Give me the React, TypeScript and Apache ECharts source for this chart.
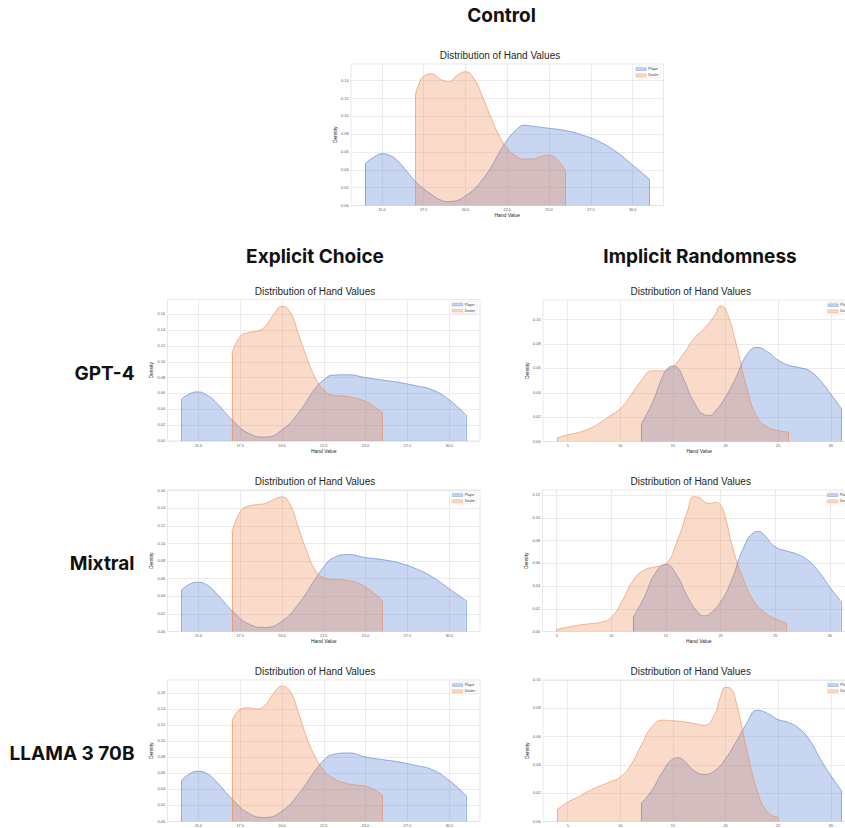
import React, { useEffect, useRef } from "react";
import * as echarts from "echarts";

// ---------- tick labels ----------
const explicitXTicks = [15, 17.5, 20, 22.5, 25, 27.5, 30];
const implicitXTicks = [5, 10, 15, 20, 25, 30];
const yTicks16 = [0, 0.02, 0.04, 0.06, 0.08, 0.1, 0.12, 0.14, 0.16];
const yTicks14 = [0, 0.02, 0.04, 0.06, 0.08, 0.1, 0.12, 0.14];
const yTicks12 = [0, 0.02, 0.04, 0.06, 0.08, 0.1, 0.12];
const yTicks10 = [0, 0.02, 0.04, 0.06, 0.08, 0.1];

const seriesNames = ["Player", "Dealer"];

// ---------- data: [hand value, density] ----------
const controlPlayer = [[14,0.047],[14.5,0.054],[15,0.058],[15.5,0.056],[16,0.049],[16.5,0.038],[17,0.027],[17.5,0.0187],[18,0.012],[18.5,0.0063],[19,0.0045],[19.5,0.0056],[20,0.0108],[20.5,0.018],[21,0.0287],[21.5,0.042],[22,0.0586],[22.5,0.0735],[23,0.084],[23.5,0.09],[24,0.089],[25,0.0866],[26,0.084],[27,0.079],[28,0.0717],[29,0.0605],[30,0.0455],[31,0.0295]];
const controlDealer = [[17,0.124],[17.25,0.138],[17.5,0.145],[18,0.1475],[18.5,0.1415],[19,0.139],[19.5,0.146],[20,0.15],[20.5,0.1426],[21,0.123],[21.5,0.0997],[22,0.079],[22.5,0.064],[23,0.0556],[23.5,0.052],[24,0.052],[24.5,0.055],[25,0.0564],[25.5,0.051],[26,0.039]];

const gpt4ExplicitPlayer = [[14,0.053],[14.5,0.06],[15,0.062],[15.5,0.058],[16,0.05],[17,0.027],[18,0.0097],[19,0.005],[20,0.014],[21,0.036],[22,0.0667],[22.5,0.077],[23,0.083],[24,0.0836],[25,0.08],[26,0.077],[27,0.074],[28,0.0697],[29,0.0646],[30,0.052],[31,0.033]];
const gpt4ExplicitDealer = [[17,0.11],[17.5,0.132],[18,0.137],[18.5,0.1385],[19,0.1448],[19.5,0.1596],[20,0.17],[20.5,0.1625],[21,0.134],[21.5,0.1047],[22,0.0794],[22.5,0.0646],[23,0.058],[24,0.056],[25,0.05],[25.5,0.0435],[26,0.036]];

const gpt4ImplicitPlayer = [[12,0.0146],[13,0.031],[14,0.053],[14.5,0.06],[15,0.0618],[15.5,0.06],[16,0.0516],[17,0.0324],[18,0.022],[18.5,0.0214],[19,0.0247],[20,0.0365],[21,0.053],[22,0.071],[23,0.0772],[24,0.0736],[25,0.0668],[26,0.0626],[27,0.0607],[28,0.058],[29,0.05],[30,0.039],[31,0.027]];
const gpt4ImplicitDealer = [[4,0.003],[5,0.0055],[6,0.0074],[7,0.0104],[8,0.015],[9,0.0209],[10,0.027],[11,0.038],[12,0.05],[13,0.058],[14,0.058],[15,0.0618],[16,0.072],[17,0.0846],[18,0.093],[19,0.104],[19.5,0.111],[20,0.1085],[21,0.0805],[22,0.0448],[23,0.02],[24,0.0118],[25,0.009],[26,0.0077]];

const mixtralExplicitPlayer = [[14,0.0475],[14.5,0.054],[15,0.056],[15.5,0.053],[16,0.045],[17,0.024],[18,0.0087],[19,0.0046],[20,0.0118],[21,0.0315],[22,0.06],[22.5,0.0733],[23,0.083],[24,0.0874],[25,0.084],[26,0.0817],[27,0.078],[28,0.0715],[29,0.062],[30,0.0487],[31,0.0353]];
const mixtralExplicitDealer = [[17,0.112],[17.5,0.136],[18,0.1425],[19,0.1456],[19.5,0.15],[20,0.153],[20.5,0.1437],[21,0.117],[21.5,0.0905],[22,0.0695],[22.5,0.061],[23,0.0593],[24,0.058],[25,0.0505],[26,0.035]];

const mixtralImplicitPlayer = [[12,0.0126],[13,0.03],[14,0.051],[15,0.059],[16,0.0494],[17,0.03],[18,0.016],[18.5,0.0138],[19,0.0156],[20,0.026],[21,0.045],[22,0.0715],[23,0.0868],[23.5,0.088],[24,0.0847],[25,0.0744],[26,0.0709],[27,0.068],[28,0.0626],[29,0.0524],[30,0.039],[31,0.0265]];
const mixtralImplicitDealer = [[5,0.002],[6,0.0038],[7,0.0056],[8,0.0068],[9,0.008],[10,0.0126],[11,0.027],[12,0.045],[13,0.054],[14,0.0568],[15,0.0597],[16,0.0788],[17,0.1068],[17.5,0.1185],[18,0.118],[18.5,0.114],[19,0.1126],[19.5,0.1135],[20,0.111],[20.5,0.098],[21,0.0774],[22,0.048],[23,0.0274],[24,0.017],[25,0.0112],[26,0.0076]];

const llamaExplicitPlayer = [[14,0.0514],[14.5,0.06],[15,0.0627],[15.5,0.06],[16,0.0514],[17,0.0284],[18,0.0104],[19,0.005],[20,0.013],[21,0.0347],[22,0.064],[22.5,0.0765],[23,0.0835],[24,0.0856],[25,0.0806],[26,0.0773],[27,0.0743],[28,0.07],[29,0.0647],[30,0.0514],[31,0.0326]];
const llamaExplicitDealer = [[17,0.1245],[17.5,0.14],[18,0.142],[18.5,0.1404],[19,0.1454],[19.5,0.16],[20,0.169],[20.5,0.162],[21,0.135],[21.5,0.1036],[22,0.0806],[22.5,0.064],[23,0.0547],[24,0.047],[25,0.044],[25.5,0.04],[26,0.0334]];

const llamaImplicitPlayer = [[12,0.013],[13,0.022],[14,0.035],[15,0.0442],[15.5,0.045],[16,0.0433],[17,0.036],[18,0.0333],[19,0.036],[20,0.0444],[21,0.0563],[22,0.0693],[23,0.0787],[24,0.0764],[25,0.072],[26,0.07],[27,0.0657],[28,0.0574],[29,0.0444],[30,0.0326],[31,0.022]];
const llamaImplicitDealer = [[4,0.0083],[5,0.0137],[6,0.0173],[7,0.0215],[8,0.025],[9,0.028],[10,0.0314],[11,0.04],[12,0.054],[13,0.067],[14,0.0716],[15,0.0712],[16,0.0705],[17,0.0693],[18,0.068],[19,0.0764],[19.5,0.088],[20,0.0948],[20.5,0.094],[21,0.0846],[22,0.0515],[23,0.022],[24,0.0066],[25,0.003]];

// ---------- layout / styles ----------
const PLAYER_COLOR = "#4878d0";
const DEALER_COLOR = "#ee854a";
const TEXT = "#262626";
const FONT = "Liberation Sans, Arial, sans-serif";

const panels = [
  { player: controlPlayer, dealer: controlDealer, xTicks: explicitXTicks, xDec: 1, yTicks: yTicks14, xMin: 13.15, xMax: 31.85, yMax: 0.1587, left: 351, top: 64, titleX: 500 },
  { player: gpt4ExplicitPlayer, dealer: gpt4ExplicitDealer, xTicks: explicitXTicks, xDec: 1, yTicks: yTicks16, xMin: 13.15, xMax: 31.85, yMax: 0.1786, left: 167.5, top: 299.5, titleX: 315 },
  { player: gpt4ImplicitPlayer, dealer: gpt4ImplicitDealer, xTicks: implicitXTicks, xDec: 0, yTicks: yTicks10, xMin: 2.65, xMax: 32.35, yMax: 0.1162, left: 543, top: 300, titleX: 690.7 },
  { player: mixtralExplicitPlayer, dealer: mixtralExplicitDealer, xTicks: explicitXTicks, xDec: 1, yTicks: yTicks16, xMin: 13.15, xMax: 31.85, yMax: 0.1608, left: 167.5, top: 490, titleX: 315 },
  { player: mixtralImplicitPlayer, dealer: mixtralImplicitDealer, xTicks: implicitXTicks, xDec: 0, yTicks: yTicks12, xMin: 3.7, xMax: 32.3, yMax: 0.1244, left: 542.5, top: 490, titleX: 690.7 },
  { player: llamaExplicitPlayer, dealer: llamaExplicitDealer, xTicks: explicitXTicks, xDec: 1, yTicks: yTicks16, xMin: 13.15, xMax: 31.85, yMax: 0.1767, left: 167.5, top: 680, titleX: 315 },
  { player: llamaImplicitPlayer, dealer: llamaImplicitDealer, xTicks: implicitXTicks, xDec: 0, yTicks: yTicks10, xMin: 2.65, xMax: 32.35, yMax: 0.1, left: 543, top: 680, titleX: 690.7 },
];
const PW = 312.5;
const PH = 141.5;

const headings = [
  { text: "Control", x: 501.5, y: 15 },
  { text: "Explicit Choice", x: 315, y: 256 },
  { text: "Implicit Randomness", x: 700, y: 256 },
];
const rowLabels = [
  { text: "GPT-4", y: 373 },
  { text: "Mixtral", y: 563 },
  { text: "LLAMA 3 70B", y: 753 },
];

function txt(text: string, x: number, y: number, font: string, fill: string, align: string) {
  return {
    type: "text",
    x,
    y,
    z: 100,
    silent: true,
    style: { text, font, fill, align, textAlign: align, verticalAlign: "middle", textVerticalAlign: "middle" },
  };
}

function buildOption() {
  const grid: any[] = [];
  const xAxis: any[] = [];
  const yAxis: any[] = [];
  const series: any[] = [];
  const graphic: any[] = [];

  headings.forEach((h) => graphic.push(txt(h.text, h.x, h.y, "bold 19px Inter", "#111", "center")));
  rowLabels.forEach((r) => graphic.push(txt(r.text, 134.5, r.y, "bold 19px Inter", "#111", "right")));

  panels.forEach((p, i) => {
    grid.push({
      left: p.left, top: p.top, width: PW, height: PH,
      outerBoundsMode: "none",
      containLabel: false,
      show: true, borderColor: "#dedede", borderWidth: 0.7, backgroundColor: "transparent",
    });
    xAxis.push({
      type: "value", gridIndex: i, min: p.xMin, max: p.xMax,
      axisLine: { show: false },
      axisTick: { show: false, customValues: p.xTicks },
      axisLabel: {
        customValues: p.xTicks, fontSize: 3.8, color: "#555", margin: 2.5, fontFamily: FONT,
        formatter: (v: number) => v.toFixed(p.xDec),
      },
      splitLine: { show: true, lineStyle: { color: "#e4e4e4", width: 0.7 } },
      name: "Hand Value", nameLocation: "middle", nameGap: 6,
      nameTextStyle: { fontSize: 5, color: TEXT, fontFamily: FONT },
    });
    yAxis.push({
      type: "value", gridIndex: i, min: 0, max: p.yMax,
      axisLine: { show: false },
      axisTick: { show: false, customValues: p.yTicks },
      axisLabel: {
        customValues: p.yTicks, fontSize: 3.8, color: "#555", margin: 2.5, fontFamily: FONT,
        formatter: (v: number) => v.toFixed(2),
      },
      splitLine: { show: true, lineStyle: { color: "#e4e4e4", width: 0.7 } },
      name: "Density", nameLocation: "middle", nameGap: 11, nameRotate: 90,
      nameTextStyle: { fontSize: 5, color: TEXT, fontFamily: FONT },
    });

    [p.player, p.dealer].forEach((data, k) => {
      const color = k === 0 ? PLAYER_COLOR : DEALER_COLOR;
      const first = data[0];
      const last = data[data.length - 1];
      series.push({
        name: seriesNames[k],
        type: "line",
        xAxisIndex: i, yAxisIndex: i,
        data,
        smooth: 0.5,
        symbol: "none",
        showSymbol: false,
        z: 2 + k,
        lineStyle: { color, width: 0.8, opacity: 0.7 },
        areaStyle: { color, opacity: 0.3, origin: "start" },
        markLine: {
          silent: true, symbol: ["none", "none"], label: { show: false },
          lineStyle: { color, width: 0.8, opacity: 0.7, type: "solid" },
          data: [
            [{ coord: [first[0], 0] }, { coord: [first[0], first[1]] }],
            [{ coord: [last[0], last[1]] }, { coord: [last[0], 0] }],
          ],
        },
      });
    });

    // chart title
    graphic.push(txt("Distribution of Hand Values", p.titleX, p.top - 8.5, "10px " + FONT, TEXT, "center"));

    // legend
    const bx = p.left + PW - 28.5;
    const by = p.top + 2.2;
    graphic.push({
      type: "rect", z: 90, silent: true,
      shape: { x: bx, y: by, width: 25.5, height: 11.6, r: 1 },
      style: { fill: "rgba(255,255,255,0.85)", stroke: "#dddddd", lineWidth: 0.5 },
    });
    seriesNames.forEach((n, k) => {
      const color = k === 0 ? PLAYER_COLOR : DEALER_COLOR;
      const py = by + 1.6 + k * 6;
      graphic.push({
        type: "rect", z: 91, silent: true,
        shape: { x: bx + 1.2, y: py, width: 10, height: 2.7 },
        style: { fill: color, opacity: 0.3 },
      });
      graphic.push({
        type: "rect", z: 92, silent: true,
        shape: { x: bx + 1.2, y: py, width: 10, height: 2.7 },
        style: { fill: "none", stroke: color, lineWidth: 0.5, opacity: 0.7 },
      });
      graphic.push(txt(n, bx + 13.3, py + 1.35, "3.5px " + FONT, "#333", "left"));
    });
  });

  return {
    animation: false,
    backgroundColor: "#ffffff",
    grid, xAxis, yAxis, series, graphic,
  };
}

export default function App() {
  const ref = useRef<HTMLDivElement>(null);
  useEffect(() => {
    if (!ref.current) return;
    const chart = echarts.init(ref.current, null, { renderer: "svg" });
    chart.setOption(buildOption() as any);
    return () => chart.dispose();
  }, []);
  return (
    <div
      ref={ref}
      style={{ position: "absolute", left: 0, top: 0, width: 845, height: 828, overflow: "hidden", background: "#fff" }}
    />
  );
}
